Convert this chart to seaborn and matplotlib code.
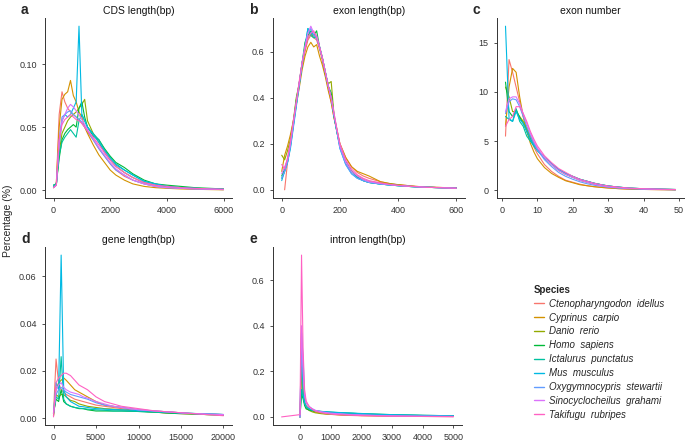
import numpy as np
import pandas as pd
import seaborn as sns
import matplotlib.pyplot as plt

# species and ggplot-like hue colours
species = ["Ctenopharyngodon  idellus", "Cyprinus  carpio", "Danio  rerio",
           "Homo  sapiens", "Ictalurus  punctatus", "Mus  musculus",
           "Oxygymnocypris  stewartii", "Sinocyclocheilus  grahami", "Takifugu  rubripes"]
colors = ["#F8766D", "#D39200", "#93AA00", "#00BA38", "#00C19F",
          "#00B9E3", "#619CFF", "#DB72FB", "#FF61C3"]

# a: CDS length
cds_x = [0, 100, 200, 300, 400, 500, 600, 700, 800, 900, 1000, 1100, 1200, 1400, 1600,
         1800, 2000, 2200, 2500, 2800, 3200, 3600, 4000, 4500, 5000, 5500, 6000]
cds_y = {
    species[0]: [0.002, 0.005, 0.060, 0.078, 0.070, 0.065, 0.062, 0.060, 0.058, 0.056, 0.053, 0.050, 0.046, 0.040, 0.033, 0.027, 0.021, 0.016, 0.011, 0.008, 0.005, 0.003, 0.002, 0.0015, 0.001, 0.0008, 0.0005],
    species[1]: [0.002, 0.006, 0.050, 0.072, 0.076, 0.078, 0.087, 0.075, 0.070, 0.062, 0.058, 0.050, 0.045, 0.036, 0.028, 0.022, 0.016, 0.012, 0.008, 0.005, 0.003, 0.002, 0.0015, 0.001, 0.0007, 0.0005, 0.0003],
    species[2]: [0.003, 0.004, 0.030, 0.045, 0.050, 0.055, 0.058, 0.060, 0.062, 0.065, 0.068, 0.072, 0.055, 0.045, 0.038, 0.030, 0.024, 0.019, 0.014, 0.010, 0.006, 0.004, 0.003, 0.002, 0.0015, 0.001, 0.0008],
    species[3]: [0.004, 0.005, 0.025, 0.040, 0.045, 0.048, 0.050, 0.052, 0.050, 0.065, 0.070, 0.058, 0.050, 0.043, 0.040, 0.033, 0.027, 0.022, 0.018, 0.013, 0.008, 0.005, 0.004, 0.003, 0.002, 0.0015, 0.001],
    species[4]: [0.004, 0.005, 0.028, 0.038, 0.042, 0.045, 0.048, 0.045, 0.042, 0.055, 0.060, 0.055, 0.050, 0.045, 0.040, 0.032, 0.026, 0.021, 0.016, 0.012, 0.007, 0.005, 0.003, 0.002, 0.0015, 0.001, 0.0008],
    species[5]: [0.003, 0.004, 0.035, 0.055, 0.060, 0.058, 0.060, 0.065, 0.070, 0.130, 0.060, 0.055, 0.050, 0.044, 0.038, 0.031, 0.025, 0.020, 0.016, 0.012, 0.007, 0.005, 0.003, 0.002, 0.0015, 0.001, 0.0008],
    species[6]: [0.002, 0.004, 0.040, 0.058, 0.060, 0.062, 0.063, 0.060, 0.058, 0.056, 0.054, 0.050, 0.047, 0.040, 0.033, 0.027, 0.021, 0.016, 0.012, 0.008, 0.005, 0.003, 0.002, 0.0015, 0.001, 0.0008, 0.0005],
    species[7]: [0.002, 0.004, 0.038, 0.055, 0.060, 0.065, 0.068, 0.066, 0.063, 0.060, 0.056, 0.052, 0.048, 0.041, 0.034, 0.028, 0.022, 0.017, 0.012, 0.008, 0.005, 0.003, 0.002, 0.0015, 0.001, 0.0008, 0.0005],
    species[8]: [0.002, 0.004, 0.040, 0.052, 0.056, 0.058, 0.060, 0.058, 0.056, 0.055, 0.053, 0.050, 0.047, 0.042, 0.036, 0.030, 0.024, 0.019, 0.014, 0.010, 0.006, 0.004, 0.003, 0.002, 0.0015, 0.001, 0.0008],
}

# b: exon length
exon_x = [0, 10, 20, 30, 40, 50, 60, 70, 80, 90, 100, 110, 120, 130, 140, 150, 160, 170, 180, 190,
          200, 220, 240, 260, 280, 300, 340, 380, 420, 460, 500, 550, 600]
exon_y = {
    species[0]: [np.nan, 0.00, 0.12, 0.20, 0.29, 0.38, 0.46, 0.54, 0.60, 0.65, 0.67, 0.66, 0.65, 0.61, 0.56, 0.50, 0.44, 0.38, 0.31, 0.25, 0.20, 0.14, 0.10, 0.075, 0.06, 0.05, 0.035, 0.025, 0.02, 0.015, 0.012, 0.01, 0.008],
    species[1]: [0.08, 0.15, 0.19, 0.24, 0.30, 0.37, 0.44, 0.52, 0.58, 0.62, 0.64, 0.62, 0.63, 0.58, 0.54, 0.49, 0.43, 0.38, 0.31, 0.26, 0.20, 0.14, 0.10, 0.08, 0.07, 0.06, 0.035, 0.025, 0.02, 0.015, 0.012, 0.01, 0.008],
    species[2]: [0.15, 0.13, 0.17, 0.22, 0.30, 0.40, 0.46, 0.55, 0.61, 0.66, 0.68, 0.66, 0.67, 0.62, 0.57, 0.50, 0.46, 0.47, 0.32, 0.26, 0.19, 0.12, 0.08, 0.06, 0.045, 0.035, 0.03, 0.025, 0.018, 0.014, 0.011, 0.009, 0.007],
    species[3]: [0.06, 0.09, 0.13, 0.20, 0.29, 0.39, 0.46, 0.55, 0.64, 0.67, 0.69, 0.67, 0.69, 0.62, 0.57, 0.51, 0.45, 0.42, 0.32, 0.25, 0.19, 0.12, 0.08, 0.055, 0.04, 0.032, 0.025, 0.02, 0.016, 0.013, 0.011, 0.009, 0.007],
    species[4]: [0.05, 0.08, 0.12, 0.19, 0.28, 0.37, 0.46, 0.55, 0.62, 0.70, 0.67, 0.66, 0.66, 0.62, 0.57, 0.51, 0.45, 0.40, 0.32, 0.25, 0.19, 0.12, 0.08, 0.055, 0.04, 0.032, 0.025, 0.02, 0.016, 0.013, 0.011, 0.009, 0.007],
    species[5]: [0.04, 0.08, 0.12, 0.18, 0.27, 0.36, 0.45, 0.54, 0.62, 0.70, 0.68, 0.67, 0.66, 0.62, 0.57, 0.51, 0.45, 0.40, 0.32, 0.25, 0.18, 0.11, 0.07, 0.05, 0.04, 0.032, 0.025, 0.02, 0.016, 0.013, 0.011, 0.009, 0.007],
    species[6]: [0.05, 0.08, 0.12, 0.19, 0.28, 0.37, 0.46, 0.55, 0.62, 0.68, 0.70, 0.67, 0.66, 0.62, 0.57, 0.51, 0.45, 0.40, 0.32, 0.25, 0.18, 0.11, 0.07, 0.05, 0.04, 0.032, 0.025, 0.02, 0.016, 0.013, 0.011, 0.009, 0.007],
    species[7]: [0.07, 0.10, 0.13, 0.20, 0.29, 0.38, 0.46, 0.55, 0.62, 0.68, 0.71, 0.68, 0.67, 0.62, 0.57, 0.51, 0.45, 0.40, 0.33, 0.26, 0.19, 0.12, 0.08, 0.06, 0.045, 0.035, 0.027, 0.021, 0.017, 0.014, 0.011, 0.009, 0.007],
    species[8]: [0.11, 0.09, 0.14, 0.21, 0.30, 0.38, 0.47, 0.55, 0.61, 0.66, 0.68, 0.69, 0.66, 0.62, 0.57, 0.51, 0.45, 0.40, 0.33, 0.26, 0.20, 0.13, 0.09, 0.065, 0.05, 0.04, 0.03, 0.022, 0.017, 0.014, 0.011, 0.009, 0.007],
}

# c: exon number
num_x = [1, 2, 3, 4, 5, 6, 7, 8, 9, 10, 12, 14, 16, 18, 20, 22, 24, 26, 28, 30, 33, 36, 40, 44, 49]
num_y = {
    species[0]: [5.5, 13.3, 12.0, 10.5, 9.0, 7.5, 6.3, 5.3, 4.4, 3.7, 2.6, 1.9, 1.4, 1.0, 0.8, 0.6, 0.45, 0.35, 0.28, 0.22, 0.15, 0.10, 0.07, 0.05, 0.03],
    species[1]: [6.5, 10.5, 12.4, 12.0, 9.5, 7.5, 6.0, 4.8, 3.9, 3.2, 2.3, 1.7, 1.3, 0.95, 0.75, 0.55, 0.45, 0.35, 0.28, 0.22, 0.15, 0.10, 0.07, 0.05, 0.03],
    species[2]: [10.5, 9.5, 8.0, 8.0, 7.5, 7.0, 6.3, 5.5, 4.8, 4.2, 3.3, 2.6, 2.0, 1.6, 1.3, 1.0, 0.8, 0.6, 0.45, 0.35, 0.25, 0.18, 0.12, 0.08, 0.05],
    species[3]: [11.0, 8.0, 7.5, 8.2, 7.4, 6.8, 6.0, 5.2, 4.6, 4.1, 3.3, 2.7, 2.1, 1.7, 1.4, 1.1, 0.9, 0.7, 0.55, 0.42, 0.30, 0.20, 0.14, 0.10, 0.06],
    species[4]: [7.5, 7.2, 7.0, 8.3, 7.0, 6.5, 5.5, 5.0, 4.5, 4.0, 3.3, 2.7, 2.1, 1.7, 1.3, 1.1, 0.9, 0.7, 0.55, 0.42, 0.30, 0.20, 0.14, 0.10, 0.06],
    species[5]: [16.7, 7.3, 7.0, 8.0, 7.2, 6.8, 6.0, 5.2, 4.6, 4.1, 3.3, 2.7, 2.1, 1.7, 1.4, 1.1, 0.9, 0.7, 0.55, 0.42, 0.30, 0.20, 0.14, 0.10, 0.06],
    species[6]: [7.8, 9.0, 9.3, 9.2, 8.5, 7.5, 6.5, 5.6, 4.8, 4.1, 3.1, 2.4, 1.8, 1.4, 1.1, 0.85, 0.65, 0.5, 0.4, 0.3, 0.2, 0.14, 0.10, 0.07, 0.04],
    species[7]: [8.0, 9.3, 9.5, 9.5, 8.8, 7.8, 6.8, 5.8, 5.0, 4.3, 3.3, 2.6, 2.0, 1.6, 1.3, 1.0, 0.8, 0.6, 0.45, 0.35, 0.25, 0.18, 0.12, 0.08, 0.05],
    species[8]: [6.5, 7.2, 7.5, 8.5, 8.5, 7.8, 7.0, 6.0, 5.2, 4.5, 3.5, 2.8, 2.2, 1.8, 1.4, 1.1, 0.9, 0.7, 0.55, 0.42, 0.30, 0.20, 0.14, 0.10, 0.06],
}

# d: gene length
gene_x = [0, 300, 600, 900, 1200, 1500, 2000, 2500, 3000, 3500, 4000, 5000, 6000, 7000, 8000,
          10000, 12000, 14000, 16000, 18000, 20000]
gene_y = {
    species[0]: [0.002, 0.025, 0.015, 0.012, 0.011, 0.010, 0.009, 0.008, 0.0075, 0.007, 0.0065, 0.0055, 0.005, 0.0045, 0.004, 0.003, 0.0025, 0.002, 0.0018, 0.0015, 0.0012],
    species[1]: [0.001, 0.012, 0.015, 0.016, 0.017, 0.016, 0.014, 0.012, 0.011, 0.010, 0.009, 0.007, 0.0055, 0.005, 0.0045, 0.0035, 0.003, 0.0025, 0.002, 0.0017, 0.0015],
    species[2]: [0.001, 0.010, 0.009, 0.010, 0.010, 0.009, 0.0075, 0.007, 0.006, 0.0055, 0.005, 0.0045, 0.004, 0.0038, 0.0035, 0.003, 0.0025, 0.002, 0.0018, 0.0015, 0.0013],
    species[3]: [0.002, 0.008, 0.007, 0.012, 0.007, 0.006, 0.005, 0.0045, 0.004, 0.004, 0.0035, 0.003, 0.003, 0.003, 0.003, 0.0028, 0.0025, 0.002, 0.0018, 0.0015, 0.0013],
    species[4]: [0.002, 0.009, 0.008, 0.026, 0.008, 0.006, 0.005, 0.0045, 0.0042, 0.004, 0.0038, 0.0035, 0.0033, 0.003, 0.003, 0.0028, 0.0025, 0.0022, 0.002, 0.0018, 0.0015],
    species[5]: [0.002, 0.015, 0.012, 0.069, 0.012, 0.009, 0.007, 0.006, 0.005, 0.0048, 0.0045, 0.004, 0.0038, 0.0036, 0.0035, 0.0032, 0.0028, 0.0024, 0.002, 0.0018, 0.0015],
    species[6]: [0.002, 0.010, 0.012, 0.013, 0.012, 0.011, 0.010, 0.0095, 0.009, 0.0085, 0.008, 0.0065, 0.0055, 0.005, 0.0045, 0.0035, 0.003, 0.0025, 0.002, 0.0017, 0.0015],
    species[7]: [0.002, 0.012, 0.014, 0.015, 0.013, 0.012, 0.011, 0.0105, 0.010, 0.009, 0.0085, 0.007, 0.006, 0.005, 0.0045, 0.0035, 0.003, 0.0025, 0.002, 0.0017, 0.0015],
    species[8]: [0.0005, 0.015, 0.017, 0.018, 0.019, 0.019, 0.018, 0.016, 0.014, 0.013, 0.012, 0.009, 0.007, 0.006, 0.005, 0.004, 0.003, 0.0025, 0.002, 0.0015, 0.001],
}

# e: intron length
intron_x = [-600, 0, 50, 100, 150, 200, 300, 400, 500, 700, 1000, 1500, 2000, 2500, 3000, 4000, 5000]
intron_y = {
    species[0]: [np.nan, 0, 0.25, 0.12, 0.07, 0.05, 0.035, 0.028, 0.022, 0.016, 0.011, 0.007, 0.005, 0.004, 0.003, 0.002, 0.001],
    species[1]: [np.nan, 0, 0.20, 0.10, 0.06, 0.045, 0.033, 0.027, 0.022, 0.016, 0.012, 0.008, 0.006, 0.005, 0.004, 0.003, 0.002],
    species[2]: [np.nan, 0, 0.22, 0.10, 0.06, 0.040, 0.028, 0.022, 0.018, 0.014, 0.011, 0.009, 0.008, 0.006, 0.005, 0.003, 0.002],
    species[3]: [np.nan, 0, 0.10, 0.08, 0.05, 0.035, 0.030, 0.027, 0.025, 0.022, 0.020, 0.017, 0.014, 0.012, 0.010, 0.007, 0.005],
    species[4]: [np.nan, 0, 0.12, 0.09, 0.06, 0.045, 0.035, 0.030, 0.027, 0.024, 0.021, 0.017, 0.014, 0.011, 0.009, 0.006, 0.004],
    species[5]: [np.nan, 0, 0.37, 0.10, 0.06, 0.045, 0.035, 0.030, 0.027, 0.024, 0.021, 0.018, 0.015, 0.012, 0.010, 0.007, 0.005],
    species[6]: [np.nan, 0, 0.37, 0.26, 0.09, 0.060, 0.045, 0.035, 0.028, 0.022, 0.017, 0.012, 0.009, 0.007, 0.005, 0.003, 0.002],
    species[7]: [np.nan, 0, 0.40, 0.20, 0.10, 0.065, 0.045, 0.036, 0.029, 0.022, 0.016, 0.011, 0.008, 0.006, 0.005, 0.003, 0.002],
    species[8]: [0, 0.01, 0.71, 0.30, 0.12, 0.070, 0.045, 0.033, 0.025, 0.018, 0.012, 0.008, 0.006, 0.004, 0.003, 0.002, 0.001],
}

titles = ["CDS length(bp)", "exon length(bp)", "exon number", "gene length(bp)", "intron length(bp)"]
letters = ["a", "b", "c", "d", "e"]
panels = [(cds_x, cds_y), (exon_x, exon_y), (num_x, num_y), (gene_x, gene_y), (intron_x, intron_y)]
xticks = [[0, 2000, 4000, 6000], [0, 200, 400, 600], [0, 10, 20, 30, 40, 50],
          [0, 5000, 10000, 15000, 20000], [0, 1000, 2000, 3000, 4000, 5000]]
yticks = [[0, 0.05, 0.10], [0, 0.2, 0.4, 0.6], [0, 5, 10, 15], [0, 0.02, 0.04, 0.06], [0, 0.2, 0.4, 0.6]]
yfmt = ["{:.2f}", "{:.1f}", "{:.0f}", "{:.2f}", "{:.1f}"]

sns.set_style("ticks")
plt.rcParams['font.family'] = ['Liberation Sans', 'DejaVu Sans']

W, H = 685, 442
fig = plt.figure(figsize=(W / 100, H / 100), dpi=100)

# axes boxes in pixels: left, top, right, bottom
boxes = [(45, 18, 232, 198), (273, 18, 465, 198), (497, 18, 684, 198),
         (45, 247, 232, 425), (273, 247, 462, 425)]

palette = dict(zip(species, colors))
axes = []
for i, (xs, ys) in enumerate(panels):
    l, t, r, b = boxes[i]
    ax = fig.add_axes([l / W, 1 - b / H, (r - l) / W, (b - t) / H])
    rows = []
    for sp in species:
        for xv, yv in zip(xs, ys[sp]):
            rows.append((sp, xv, yv))
    df = pd.DataFrame(rows, columns=["Species", "x", "y"]).dropna()
    sns.lineplot(data=df, x="x", y="y", hue="Species", hue_order=species, palette=palette,
                 linewidth=0.8, ax=ax, legend=(i == 0), estimator=None, sort=False)
    ax.set_xlabel("")
    ax.set_ylabel("")
    ax.set_xticks(xticks[i])
    ax.set_xticklabels([str(v) for v in xticks[i]])
    ax.set_yticks(yticks[i])
    ax.set_yticklabels([yfmt[i].format(v) for v in yticks[i]])
    ax.tick_params(labelsize=6.5, length=2.5, width=0.6, colors="#333333", labelcolor="#333333")
    for s in ["left", "bottom"]:
        ax.spines[s].set_color("#333333")
        ax.spines[s].set_linewidth(0.7)
    sns.despine(ax=ax)
    ax.set_title(titles[i], fontsize=7.5, color="#111111", pad=3)
    fig.text((l - 24) / W, 1 - (t - 8) / H, letters[i], fontsize=10, fontweight="bold", va="center")
    axes.append(ax)

handles, labels = axes[0].get_legend_handles_labels()
axes[0].get_legend().remove()
leg = fig.legend(handles, labels, loc="upper left", bbox_to_anchor=(525 / W, 1 - 276 / H),
                 frameon=False, title="Species", fontsize=7, title_fontsize=7,
                 handlelength=1.1, handletextpad=0.5, labelspacing=0.4, alignment="left")
leg.get_title().set_fontweight("bold")
for txt in leg.get_texts():
    txt.set_fontstyle("italic")
for ln in leg.get_lines():
    ln.set_linewidth(1.0)

fig.text(8 / W, 1 - 221 / H, "Percentage (%)", rotation=90, fontsize=7.5, va="center", ha="center")

plt.savefig("out.png", dpi=100)
